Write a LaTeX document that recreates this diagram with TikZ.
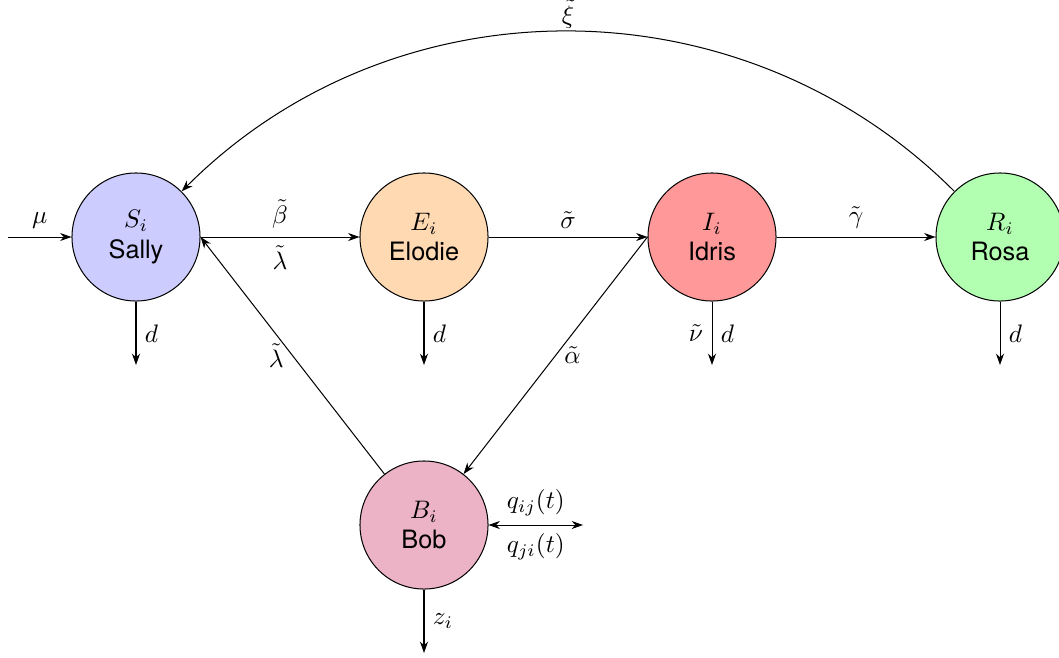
\documentclass[tikz,border=0pt]{standalone}
\usepackage{fontspec}
\setsansfont{TeX Gyre Heros}
\usetikzlibrary{arrows.meta}
\begin{document}
\begin{tikzpicture}[x=0.39518pt,y=-0.39518pt,
  comp/.style={circle,draw,minimum size=50.6pt,inner sep=0pt,align=center,font=\sffamily},
  flow/.style={-{Stealth[length=4.5pt,width=3.2pt]},line width=0.4pt},
  biflow/.style={{Stealth[length=4.5pt,width=3.2pt]}-{Stealth[length=4.5pt,width=3.2pt]},line width=0.4pt}]
  \useasboundingbox (0,0) rectangle (1059,657);
  % compartments
  \node[comp,fill=blue!20]   (S) at (136,237) {$S_i$\\Sally};
  \node[comp,fill=orange!30] (E) at (424,237) {$E_i$\\Elodie};
  \node[comp,fill=red!40]    (I) at (712,237) {$I_i$\\Idris};
  \node[comp,fill=green!30]  (R) at (1000,237) {$R_i$\\Rosa};
  \node[comp,fill=purple!30] (B) at (424,525) {$B_i$\\Bob};
  % open ends
  \coordinate (in)  at (8,237);
  \coordinate (dS)  at (136,365);
  \coordinate (dE)  at (424,365);
  \coordinate (dI)  at (712,365);
  \coordinate (dR)  at (1000,365);
  \coordinate (dB)  at (424,653);
  \coordinate (mB)  at (583,525);
  % transitions
  \draw[flow] (in) -- node[above] {$\mu$} (S.west);
  \draw[flow] (S.east) -- node[above] {$\tilde\beta$} node[below] {$\tilde\lambda$} (E.west);
  \draw[flow] (E.east) -- node[above] {$\tilde\sigma$} (I.west);
  \draw[flow] (I.east) -- node[above] {$\tilde\gamma$} (R.west);
  \draw[flow] (B) -- node[left] {$\tilde\lambda$} (S.east);
  \draw[flow] (I.west) -- node[right] {$\tilde\alpha$} (B);
  \draw[flow] (R.north west) to[out=135,in=45] node[above,inner sep=1pt] {$\tilde\xi$} (S.north east);
  % deaths and exits
  \draw[flow] (S.south) -- node[right] {$d$} (dS);
  \draw[flow] (E.south) -- node[right] {$d$} (dE);
  \draw[flow] (I.south) -- node[right] {$d$} node[left] {$\tilde\nu$} (dI);
  \draw[flow] (R.south) -- node[right] {$d$} (dR);
  \draw[flow] (B.south) -- node[right] {$z_i$} (dB);
  \draw[biflow] (B.east) -- node[above] {$q_{ij}(t)$} node[below] {$q_{ji}(t)$} (mB);
\end{tikzpicture}
\end{document}
